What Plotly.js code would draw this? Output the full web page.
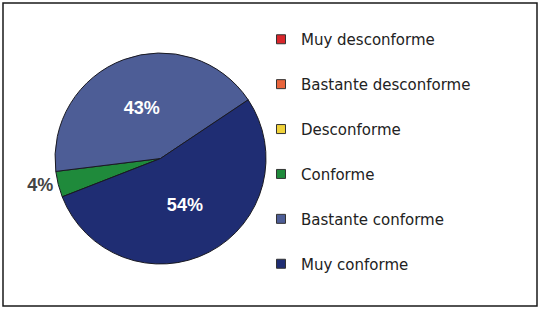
<!DOCTYPE html>
<html>
<head>
<meta charset="utf-8">
<script src="https://cdn.plot.ly/plotly-3.0.1.min.js"></script>
<style>
html,body{margin:0;padding:0;background:#fff;}
#chart{width:540px;height:311px;}
</style>
</head>
<body>
<div id="chart"></div>
<script>
const categories = ['Muy desconforme', 'Bastante desconforme', 'Desconforme', 'Conforme', 'Bastante conforme', 'Muy conforme'];
const percentValues = [0, 0, 0, 4, 43, 54];
const sliceColors = ['#d9262b', '#e8643c', '#f0d23a', '#1f8a3b', '#4d5d96', '#1f2d73'];
const labelPositions = ['none', 'none', 'none', 'outside', 'inside', 'inside'];

const pieTrace = {
  type: 'pie',
  labels: categories,
  values: percentValues,
  sort: false,
  direction: 'clockwise',
  rotation: -111.3,
  marker: { colors: sliceColors, line: { color: '#1a1a22', width: 1 } },
  texttemplate: '%{value}%',
  textposition: labelPositions,
  insidetextorientation: 'horizontal',
  insidetextfont: { family: 'Liberation Sans, Arial, sans-serif', size: 18, color: '#ffffff', weight: 'bold' },
  outsidetextfont: { family: 'Liberation Sans, Arial, sans-serif', size: 18, color: '#444444', weight: 'bold' },
  domain: { x: [55/540, 266/540], y: [1 - 264/311, 1 - 53/311] },
  hoverinfo: 'none',
  showlegend: false
};

// legend entries, one per category, built from the same arrays
const legendTraces = categories.map((name, i) => ({
  type: 'scatter',
  mode: 'markers',
  x: [null], y: [null],
  name: name,
  legendgroup: 'g' + i,
  marker: { symbol: 'square', size: 9, color: sliceColors[i], line: { color: '#333333', width: 1 } },
  hoverinfo: 'none'
}));

const layout = {
  width: 540,
  height: 311,
  margin: { l: 0, r: 0, t: 0, b: 0 },
  paper_bgcolor: '#ffffff',
  plot_bgcolor: 'rgba(0,0,0,0)',
  xaxis: { visible: false, domain: [0.6, 0.61] },
  yaxis: { visible: false, domain: [0.5, 0.51] },
  showlegend: true,
  legend: {
    x: 261/540, xanchor: 'left',
    y: 1 - 23/311, yanchor: 'top',
    traceorder: 'grouped',
    tracegroupgap: 22.4,
    itemwidth: 30,
    font: { family: 'DejaVu Sans, sans-serif', size: 15, color: '#222222' },
    bgcolor: 'rgba(0,0,0,0)'
  },
  shapes: [{
    type: 'rect', xref: 'paper', yref: 'paper',
    x0: 3/540, x1: 537/540, y0: 1 - 306/311, y1: 1 - 3/311,
    line: { color: '#1a1a1a', width: 1.5 }
  }]
};

Plotly.newPlot('chart', [pieTrace].concat(legendTraces), layout, { displayModeBar: false, staticPlot: true });
</script>
</body>
</html>
